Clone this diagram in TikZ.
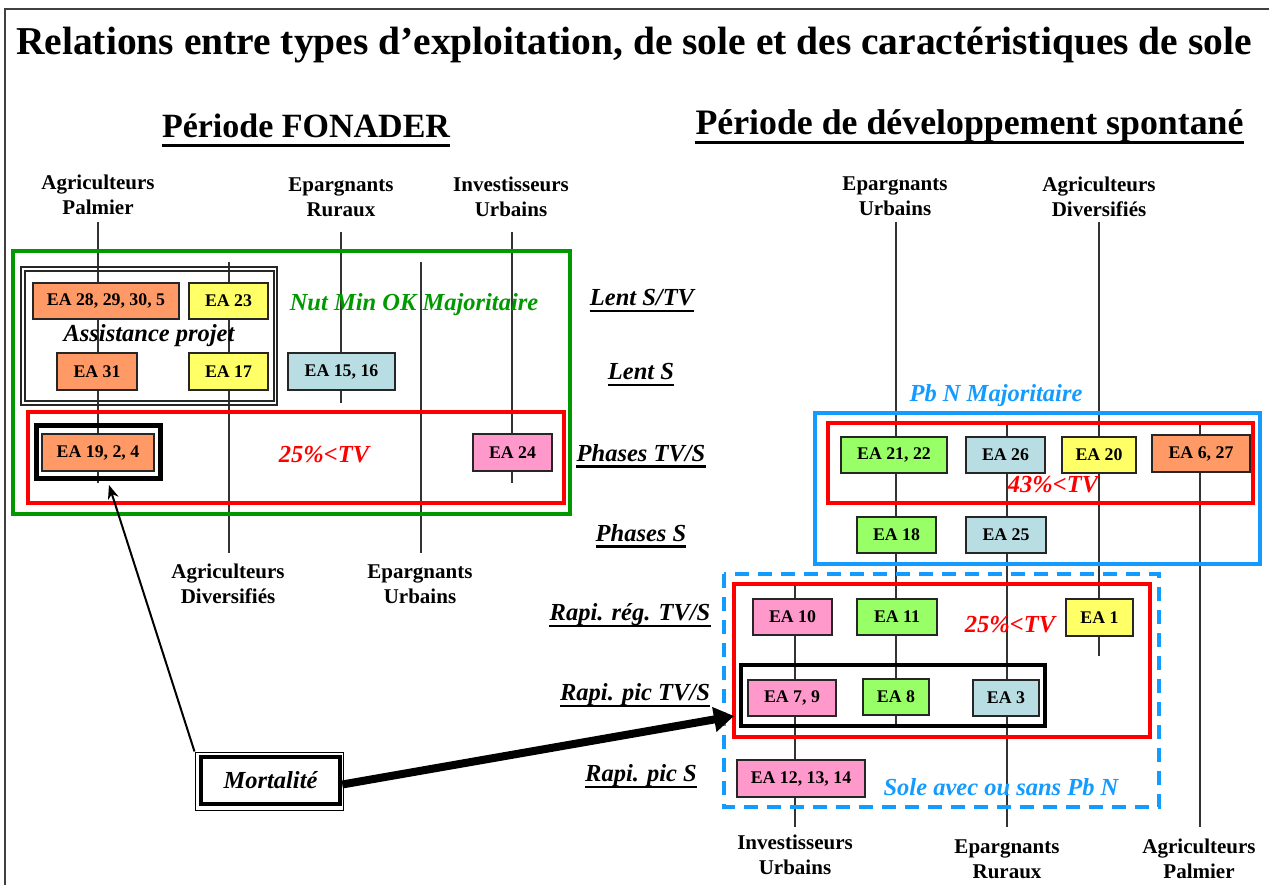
\documentclass[tikz,border=0pt]{standalone}
\usepackage{fontspec}
\setmainfont{Liberation Serif}
\usetikzlibrary{arrows.meta}
\definecolor{eaor}{RGB}{255,153,102}
\definecolor{eaye}{RGB}{255,255,102}
\definecolor{eabl}{RGB}{184,222,228}
\definecolor{eapk}{RGB}{255,153,204}
\definecolor{eagr}{RGB}{153,255,102}
\definecolor{grD}{RGB}{0,153,0}
\definecolor{skyB}{RGB}{20,155,255}
\definecolor{redB}{RGB}{255,0,0}
\begin{document}
\begin{tikzpicture}[x=1pt,y=-1pt,
  ea/.style={draw=black!85, line width=1.5pt, inner sep=0pt, minimum height=36pt, font=\fontsize{17.8}{20}\selectfont\bfseries},
  col/.style={font=\fontsize{21}{25}\selectfont\bfseries, align=center, inner sep=0pt},
  axisl/.style={line width=1.2pt, black!80},
  grp/.style={line width=4pt},
  rowl/.style={font=\fontsize{24.5}{28}\selectfont\bfseries\itshape, inner sep=0pt},
  note/.style={font=\fontsize{24.5}{28}\selectfont\bfseries\itshape, inner sep=0pt},
  ul/.style={line width=2.6pt},
  head/.style={font=\fontsize{34}{40}\selectfont\bfseries, inner sep=0pt}
]
\useasboundingbox (0,0) rectangle (1269,885);
% outer frame
\draw[line width=2pt, black!75] (5,885) -- (5,9) -- (1269,9);
% title
\node[font=\fontsize{39.5}{46}\selectfont\bfseries, inner sep=0pt] (title) at (634,45) {Relations entre types d’exploitation, de sole et des caractéristiques de sole};
% headings
\node[head] (h1) at (306,126) {Période FONADER};
\node[head, font=\fontsize{35.8}{42}\selectfont\bfseries] (h2) at (969.5,126) {Période de développement spontané};
\draw[line width=3.5pt] ([yshift=-8pt]h1.base west) -- ([yshift=-8pt]h1.base east);
\draw[line width=3.5pt] ([yshift=-8pt]h2.base west) -- ([yshift=-8pt]h2.base east);

% ---------- column labels (left) ----------
\node[col] (cAP) at (98,195) {Agriculteurs\\Palmier};
\node[col] (cER) at (341,197) {Epargnants\\Ruraux};
\node[col] (cIU) at (511,197) {Investisseurs\\Urbains};
\node[col] (cAD) at (228,584) {Agriculteurs\\Diversifiés};
\node[col] (cEU) at (420,584) {Epargnants\\Urbains};
% ---------- column labels (right) ----------
\node[col] (dEU) at (895,196) {Epargnants\\Urbains};
\node[col] (dAD) at (1099,197) {Agriculteurs\\Diversifiés};
\node[col] (dIU) at (795,855) {Investisseurs\\Urbains};
\node[col] (dER) at (1007,859) {Epargnants\\Ruraux};
\node[col] (dAP) at (1199,859) {Agriculteurs\\Palmier};

% axis coordinates
\coordinate (aAPt) at (98,222);  \coordinate (aAPb) at (98,483);
\coordinate (aERt) at (341,232); \coordinate (aERb) at (341,403);
\coordinate (aIUt) at (512,232); \coordinate (aIUb) at (512,483);
\coordinate (aADt) at (229,262); \coordinate (aADb) at (229,553);
\coordinate (aEUt) at (421,262); \coordinate (aEUb) at (421,553);
\coordinate (bEUt) at (896,222); \coordinate (bEUb) at (896,725);
\coordinate (bADt) at (1099,222); \coordinate (bADb) at (1099,656);
\coordinate (bIUt) at (795,585); \coordinate (bIUb) at (795,827);
\coordinate (bERt) at (1007,425); \coordinate (bERb) at (1007,827);
\coordinate (bAPt) at (1200,425); \coordinate (bAPb) at (1200,827);
\foreach \a in {aAP,aER,aIU,aAD,aEU,bEU,bAD,bIU,bER,bAP}
  \draw[axisl] (\a t) -- (\a b);

% ---------- left groups ----------
\draw[grp, grD] (13,251) rectangle (570,514);
\draw[line width=1.6pt, black!85] (21,267) rectangle (277,405);
\draw[line width=1.6pt, black!85] (25,271) rectangle (274,401);
\draw[grp, redB] (28,412) rectangle (564,503);

\node[ea, fill=eaor, minimum width=146pt] (e28) at (106,301) {EA 28, 29, 30, 5};
\node[ea, fill=eaye, minimum width=79pt] (e23) at (228.5,301) {EA 23};
\node[ea, fill=eaor, minimum width=80pt, minimum height=37pt] (e31) at (97,371.5) {EA 31};
\node[ea, fill=eaye, minimum width=79pt, minimum height=37pt] (e17) at (228.5,371.5) {EA 17};
\node[ea, fill=eabl, minimum width=107pt, minimum height=37pt] (e15) at (341.5,371.5) {EA 15, 16};
\node[draw, line width=5pt, minimum width=124pt, minimum height=53pt, inner sep=0pt] (e19o) at (98,451.5) {};
\node[ea, fill=eaor, minimum width=112pt, minimum height=37pt] (e19) at (98,452.5) {EA 19, 2, 4};
\node[ea, fill=eapk, minimum width=79pt, minimum height=37pt] (e24) at (512.5,452.5) {EA 24};

\node[note, grD] (nut) at (414,305) {Nut Min OK Majoritaire};
\node[note] (assist) at (149,336) {Assistance projet};
\node[note, redB] (tvL) at (324,455) {25\%<TV};

% ---------- row labels ----------
\node[rowl] (r1) at (642,298) {Lent S/TV};
\node[rowl] (r2) at (641,372) {Lent S};
\node[rowl] (r3) at (641,453) {Phases TV/S};
\node[rowl] (r4) at (641,533) {Phases S};
\node[rowl] (r5) at (630,615) {Rapi. rég. TV/S};
\node[rowl] (r6) at (635,695) {Rapi. pic TV/S};
\node[rowl] (r7) at (641,776) {Rapi. pic S};
\foreach \r in {r1,r2,r3,r4,r5,r6,r7}
  \draw[ul] ([yshift=-5pt]\r.base west) -- ([yshift=-5pt]\r.base east);

% ---------- right groups ----------
\draw[grp, skyB] (815,413) rectangle (1260,564);
\draw[grp, redB] (828,423) rectangle (1253,503);
\node[note, skyB] (pbn) at (996,396) {Pb N Majoritaire};

\node[ea, fill=eagr, minimum width=106pt] (e21) at (894,455) {EA 21, 22};
\node[ea, fill=eabl, minimum width=79pt] (e26) at (1005.5,455) {EA 26};
\node[ea, fill=eaye, minimum width=74pt] (e20) at (1099,455) {EA 20};
\node[ea, fill=eaor, minimum width=98pt, minimum height=37pt] (e6) at (1201,453.5) {EA 6, 27};
\node[note, redB] (tvR1) at (1053,485) {43\%<TV};
\node[ea, fill=eagr, minimum width=79pt] (e18) at (896.5,535) {EA 18};
\node[ea, fill=eabl, minimum width=80pt] (e25) at (1006,535) {EA 25};

\draw[grp, skyB, dash pattern=on 14pt off 9pt] (724,574) rectangle (1159,807);
\draw[grp, redB] (734,584) rectangle (1150,737);
\draw[grp, black] (741,665) rectangle (1045,726);

\node[ea, fill=eapk, minimum width=79pt] (e10) at (792.5,617) {EA 10};
\node[ea, fill=eagr, minimum width=80pt] (e11) at (897,617) {EA 11};
\node[ea, fill=eaye, minimum width=67pt, minimum height=37pt] (e1) at (1099.5,617.5) {EA 1};
\node[note, redB] (tvR2) at (1010,625) {25\%<TV};
\node[ea, fill=eapk, minimum width=88pt] (e7) at (792,698) {EA 7, 9};
\node[ea, fill=eagr, minimum width=66pt] (e8) at (896,697) {EA 8};
\node[ea, fill=eabl, minimum width=66pt] (e3) at (1006,698) {EA 3};
\node[ea, fill=eapk, minimum width=128pt, minimum height=37pt] (e12) at (801,778.5) {EA 12, 13, 14};
\node[note, skyB] (sole) at (1001,787) {Sole avec ou sans Pb N};

% ---------- Mortalité ----------
\node[draw, line width=1pt, minimum width=148pt, minimum height=58pt, inner sep=0pt] (mortout) at (269,781) {};
\node[draw, line width=4.5pt, minimum width=139pt, minimum height=47pt, inner sep=0pt, font=\fontsize{24.5}{28}\selectfont\bfseries\itshape] (mort) at (270.5,780.5) {Mortalité};
\coordinate (tipA) at (109,485);
\coordinate (tipB) at (734,716);
\draw[line width=2pt, -{Stealth[length=14pt,width=11pt]}] (mortout.north west) -- (tipA);
\draw[line width=8pt, -{Triangle[length=20pt,width=24pt]}] ([yshift=-4pt]mort.east) -- (tipB);
\end{tikzpicture}
\end{document}
